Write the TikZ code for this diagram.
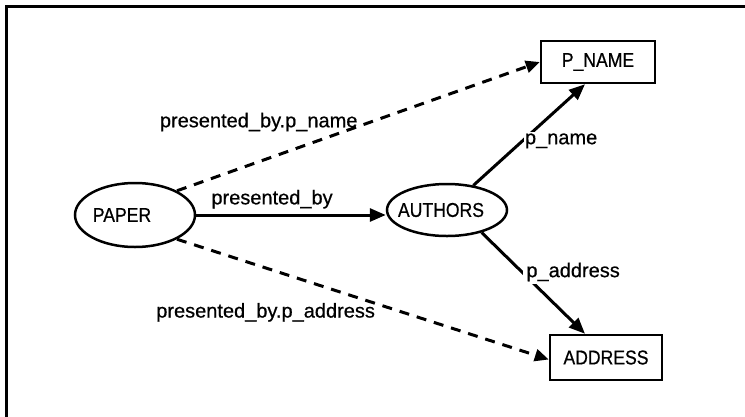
\documentclass[tikz,border=0pt]{standalone}
\usepackage{fontspec}
\setmainfont[FakeBold=0.6]{Liberation Sans}
\newfontfamily\narrowsans[FakeStretch=0.88, FakeBold=0.6]{Liberation Sans}
\usetikzlibrary{arrows.meta,shapes.geometric}
\begin{document}
\begin{tikzpicture}[x=1pt, y=-1pt,
  font=\fontsize{20}{24}\selectfont,
  entity/.style={ellipse, draw, line width=2.5pt, inner sep=0pt},
  attrbox/.style={draw, line width=2.5pt, inner sep=0pt},
  caps/.style={font=\fontsize{20}{24}\narrowsans},
  link/.style={line width=3pt, -{Triangle[length=16pt,width=13pt]}},
  pathlink/.style={line width=3pt, dash pattern=on 10pt off 8pt,
                   -{Triangle[length=14pt,width=12pt]}},
  lbl/.style={inner sep=1pt}]

\useasboundingbox (0,0) rectangle (745,416);

% outer frame (left and top edges)
\draw[line width=3pt] (6,420) -- (6,6) -- (750,6);

% entities
\node[entity, minimum width=120pt, minimum height=64pt] (paper) at (135,215) {};
\node[caps] (paperlbl) at (122,215) {PAPER};
\node[entity, minimum width=120pt, minimum height=52pt] (authors) at (447,210) {};
\node[caps] (authorslbl) at (441,210) {AUTHORS};

% attribute boxes
\node[attrbox, caps, minimum width=114pt, minimum height=42pt] (pname) at (598,62) {P\_NAME};
\node[attrbox, caps, minimum width=112pt, minimum height=45pt] (address) at (606,357.5) {ADDRESS};

% direct relationship
\draw[link] (paper.east) -- (authors.west |- paper.east)
  node[lbl, pos=0.4, above=4pt] (lpb) {presented\_by};

% attributes of AUTHORS
\draw[link] (authors.43) -- ([xshift=-13pt]pname.south)
  node[lbl, fill=white, pos=0.44, anchor=west] (lpn) {p\_name};
\draw[link] (authors.-33) -- ([xshift=-21pt]address.north)
  node[lbl, fill=white, inner sep=3pt, pos=0.39, anchor=west] (lpa) {p\_address};

% derived path attributes
\draw[pathlink] (paper.30) -- (pname.west)
  node[lbl, pos=0.51, anchor=east, xshift=-2pt, yshift=3pt] (lpbn) {presented\_by.p\_name};
\draw[pathlink] (paper.-30) -- ([yshift=-2pt]address.west)
  node[lbl, pos=0.55, anchor=east, xshift=-4pt, yshift=-7pt] (lpba) {presented\_by.p\_address};

\end{tikzpicture}
\end{document}
